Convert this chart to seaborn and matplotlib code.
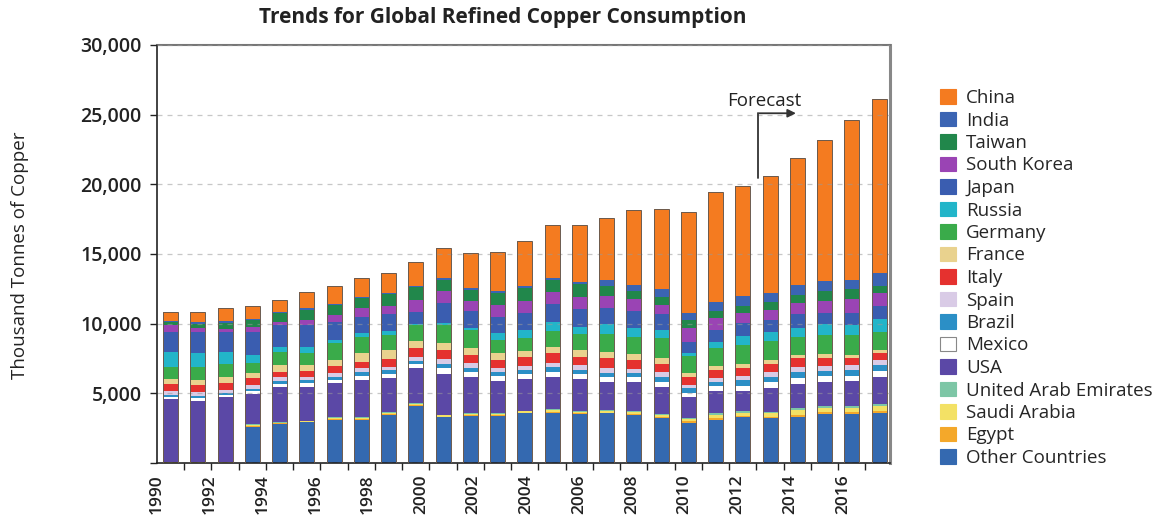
import numpy as np
import pandas as pd
import matplotlib
matplotlib.use("Agg")
import matplotlib.pyplot as plt
import seaborn as sns
from matplotlib.patches import Patch
from matplotlib.ticker import FuncFormatter, FixedLocator

# ---------------- data (thousand tonnes) ----------------
years = list(range(1990, 2017))
year_labels = [str(y) for y in range(1990, 2017, 2)]

china   = [0.65,0.75,0.94,0.89,0.84,1.16,1.26,1.32,1.45,1.67,2.14,2.51,2.83,3.23,3.82,4.08,4.41,5.36,5.69,7.29,7.92,7.89,8.37,9.11,10.14,11.49,12.47]
india   = [0.1,0.1,0.1,0.1,0.1,0.1,0.1,0.1,0.1,0.1,0.1,0.1,0.1,0.1,0.1,0.12,0.43,0.43,0.6,0.48,0.65,0.72,0.65,0.72,0.72,0.65,0.96]
taiwan  = [0.24,0.29,0.41,0.48,0.6,0.72,0.72,0.72,0.86,0.96,0.84,0.84,0.88,0.96,0.91,0.96,0.72,0.6,0.6,0.6,0.48,0.48,0.6,0.6,0.67,0.72,0.48]
korea   = [0.48,0.3,0.24,0.36,0.24,0.36,0.48,0.6,0.55,0.84,0.84,0.72,0.88,0.84,0.84,0.84,0.84,0.84,0.65,0.96,0.84,0.72,0.72,0.8,0.84,1.0,0.91]
japan   = [1.43,1.55,1.43,1.67,1.55,1.6,1.31,1.2,1.25,0.84,1.43,1.2,1.15,1.2,1.31,1.31,1.2,1.2,1.12,0.84,0.91,0.96,0.84,0.96,0.84,0.84,0.96]
russia  = [1.08,0.96,0.84,0.6,0.36,0.43,0.24,0.24,0.24,0.12,0.12,0.12,0.48,0.6,0.65,0.48,0.72,0.65,0.6,0.2,0.43,0.6,0.65,0.67,0.79,0.72,0.91]
germany = [0.84,0.96,1.0,0.72,0.96,0.84,1.2,1.2,1.08,1.08,1.31,1.31,0.96,0.91,1.08,1.2,1.24,1.27,1.4,1.2,1.27,1.39,1.39,1.3,1.36,1.43,1.27]
france  = [0.36,0.36,0.38,0.36,0.48,0.43,0.43,0.6,0.65,0.57,0.48,0.5,0.48,0.45,0.45,0.5,0.48,0.4,0.4,0.3,0.3,0.3,0.3,0.2,0.25,0.2,0.24]
italy   = [0.48,0.48,0.53,0.48,0.36,0.41,0.53,0.48,0.55,0.62,0.65,0.6,0.6,0.62,0.72,0.55,0.72,0.65,0.62,0.55,0.53,0.55,0.53,0.67,0.6,0.55,0.53]
spain   = [0.3,0.3,0.2,0.25,0.28,0.26,0.25,0.28,0.28,0.25,0.35,0.31,0.28,0.31,0.32,0.34,0.3,0.3,0.34,0.26,0.28,0.32,0.35,0.36,0.33,0.32,0.36]
brazil  = [0.15,0.17,0.14,0.2,0.22,0.22,0.22,0.26,0.26,0.24,0.33,0.3,0.28,0.3,0.31,0.32,0.31,0.31,0.36,0.3,0.33,0.38,0.4,0.42,0.42,0.4,0.42]
mexico  = [0.15,0.18,0.14,0.2,0.22,0.24,0.25,0.3,0.3,0.27,0.4,0.35,0.32,0.35,0.37,0.37,0.35,0.35,0.38,0.32,0.35,0.38,0.4,0.42,0.4,0.4,0.42]
usa     = [4.5,4.35,4.65,2.15,2.54,2.46,2.44,2.68,2.44,2.5,2.94,2.58,2.34,2.27,2.34,2.25,2.03,2.06,1.91,1.48,1.6,1.48,1.72,1.75,1.75,1.77,1.96]
uae     = [0.02,0.02,0.02,0.06,0.04,0.03,0.06,0.06,0.06,0.07,0.06,0.07,0.06,0.06,0.07,0.07,0.07,0.08,0.09,0.09,0.11,0.1,0.11,0.13,0.12,0.13,0.13]
saudi   = [0.05,0.05,0.05,0.08,0.06,0.04,0.08,0.08,0.08,0.11,0.09,0.11,0.09,0.09,0.11,0.11,0.11,0.14,0.16,0.18,0.25,0.22,0.25,0.32,0.29,0.32,0.32]
egypt   = [0.03,0.03,0.03,0.05,0.04,0.03,0.05,0.05,0.05,0.06,0.05,0.06,0.05,0.05,0.06,0.06,0.06,0.07,0.08,0.09,0.12,0.11,0.12,0.15,0.14,0.15,0.15]
other   = [0,0,0,2.6,2.8,2.92,3.08,3.08,3.45,4.1,3.27,3.37,3.37,3.56,3.61,3.51,3.56,3.44,3.2,2.89,3.08,3.27,3.2,3.32,3.51,3.51,3.61]

countries = ["China", "India", "Taiwan", "South Korea", "Japan", "Russia", "Germany",
             "France", "Italy", "Spain", "Brazil", "Mexico", "USA",
             "United Arab Emirates", "Saudi Arabia", "Egypt", "Other Countries"]
series = [china, india, taiwan, korea, japan, russia, germany, france, italy, spain,
          brazil, mexico, usa, uae, saudi, egypt, other]
colors = ["#F47B20", "#3B64B3", "#21874B", "#9A44B4", "#3A5DB0", "#22B5C9", "#3AAB4A",
          "#E9D28E", "#E5312F", "#D9CBE6", "#2B8FC6", "#FFFFFF", "#5B48A6",
          "#7DC6A6", "#F3E165", "#F4A82A", "#3469B0"]
palette = dict(zip(countries, colors))

rows = []
for c, vals in zip(countries, series):
    for y, v in zip(years, vals):
        rows.append({"year": y, "country": c, "value": v * 1000})
df = pd.DataFrame(rows)
totals = df.groupby("year")["value"].sum()

# ---------------- plot ----------------
sns.set_theme(style="white")
plt.rcParams["font.family"] = ["Open Sans", "DejaVu Sans"]

fig = plt.figure(figsize=(11.76, 5.23), dpi=100)
ax = fig.add_axes([0.1335, 0.1147, 0.6233, 0.7993])

sns.histplot(data=df, x="year", weights="value", hue="country", hue_order=countries,
             multiple="stack", discrete=True, shrink=0.55, palette=palette,
             alpha=1, edgecolor="none", linewidth=0, legend=False, ax=ax)
ax.bar(totals.index, totals.values, width=0.55, fill=False, edgecolor="#6b5a4e", linewidth=0.7, zorder=4)

ax.set_ylim(0, 30000)
ax.set_xlim(1989.52, 2016.4)
ax.set_yticks(np.arange(0, 30001, 5000))
ax.yaxis.set_major_formatter(FuncFormatter(lambda v, p: "" if v == 0 else f"{int(v):,}"))

# tick marks between the bars, year labels spread evenly along the axis
ax.xaxis.set_minor_locator(FixedLocator(np.arange(1989.5, 2016.6, 1.0)))
label_pos = 1989.5 + np.arange(len(year_labels)) * 1.936
ax.set_xticks(label_pos)
ax.set_xticklabels(year_labels, rotation=90)
ax.tick_params(axis="x", which="major", length=0, labelsize=12.5, pad=8, labelcolor="#222")
ax.tick_params(axis="x", which="minor", direction="out", length=5, width=1, color="#222", bottom=True)
ax.tick_params(axis="y", direction="out", length=5, width=1, color="#222", left=True,
               labelsize=14, pad=6, labelcolor="#222")
for lab in ax.get_yticklabels() + ax.get_xticklabels():
    lab.set_fontweight("semibold")
ax.set_xlabel("")
ax.set_ylabel("")

ax.set_axisbelow(False)
ax.grid(axis="y", color="#9a9a9a", linestyle=(0, (4, 4)), linewidth=0.9, alpha=0.55)
ax.grid(axis="x", which="both", visible=False)

for side in ["left", "bottom"]:
    ax.spines[side].set_color("#222")
    ax.spines[side].set_linewidth(1.2)
ax.spines["top"].set_color("#777")
ax.spines["top"].set_linewidth(1.5)
ax.spines["right"].set_color("#888")
ax.spines["right"].set_linewidth(2.2)

# forecast annotation
ax.plot([2011.55, 2011.55], [20450, 25100], color="#333", lw=1.3, zorder=6)
ax.annotate("", xy=(2013.05, 25100), xytext=(2011.5, 25100),
            arrowprops=dict(arrowstyle="-|>", color="#333", lw=1.3, mutation_scale=12), zorder=6)
ax.text(2011.8, 26000, "Forecast", ha="center", va="center", fontsize=13.5, color="#222")

fig.text(503 / 1176, 1 - 17 / 523, "Trends for Global Refined Copper Consumption",
         ha="center", va="center", fontsize=15, fontweight="bold", color="#222")
fig.text(20 / 1176, 1 - 255 / 523, "Thousand Tonnes of Copper", rotation=90,
         ha="center", va="center", fontsize=13.5, color="#222")

handles = [Patch(facecolor=palette[c], edgecolor="#888" if c == "Mexico" else palette[c], linewidth=0.8)
           for c in countries]
fig.legend(handles, countries, loc="upper left", bbox_to_anchor=(940 / 1176, 1 - 89 / 523),
           frameon=False, fontsize=13.5, handlelength=0.85, handleheight=0.85,
           handletextpad=0.55, labelspacing=0.24, borderaxespad=0, borderpad=0)

fig.savefig("out.png", dpi=100)
